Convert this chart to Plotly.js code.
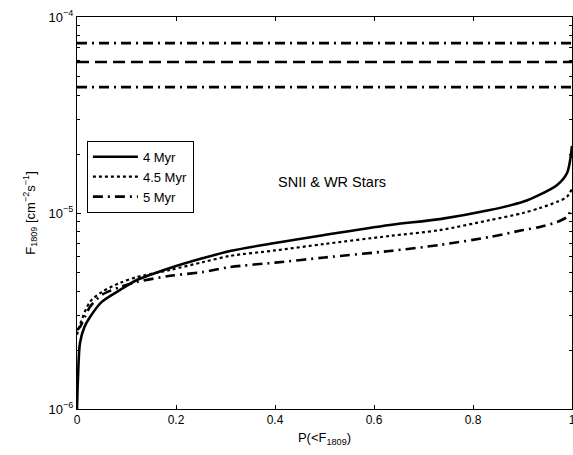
<!DOCTYPE html>
<html>
<head>
<meta charset="utf-8">
<script src="https://cdn.plot.ly/plotly-3.0.1.min.js"></script>
<style>
html,body{margin:0;padding:0;background:#fff;}
#chart{width:573px;height:455px;}
</style>
</head>
<body>
<div id="chart"></div>
<script>
// Curves: cumulative probability P(<F1809) vs flux F1809
var p4  = [0, 0.002, 0.006, 0.015, 0.026, 0.05, 0.087, 0.121, 0.188, 0.255, 0.309, 0.4, 0.5, 0.632, 0.733, 0.834, 0.901, 0.935, 0.970, 0.99, 1];
var f4  = [1.0e-6, 1.45e-6, 2.17e-6, 2.62e-6, 2.94e-6, 3.52e-6, 4.05e-6, 4.55e-6, 5.24e-6, 5.89e-6, 6.40e-6, 7.03e-6, 7.73e-6, 8.69e-6, 9.31e-6, 1.035e-5, 1.14e-5, 1.24e-5, 1.39e-5, 1.60e-5, 2.2e-5];
var p45 = [0, 0.006, 0.026, 0.05, 0.087, 0.121, 0.188, 0.255, 0.309, 0.4, 0.5, 0.632, 0.733, 0.834, 0.901, 0.935, 0.970, 0.99, 1];
var f45 = [2.39e-6, 2.69e-6, 3.52e-6, 3.95e-6, 4.40e-6, 4.71e-6, 5.12e-6, 5.62e-6, 6.04e-6, 6.44e-6, 6.95e-6, 7.64e-6, 8.18e-6, 9.2e-6, 1.0e-5, 1.06e-5, 1.14e-5, 1.21e-5, 1.33e-5];
var p5  = [0, 0.006, 0.026, 0.05, 0.087, 0.121, 0.188, 0.255, 0.309, 0.4, 0.5, 0.632, 0.733, 0.834, 0.901, 0.935, 0.970, 0.99, 1];
var f5  = [2.53e-6, 2.62e-6, 3.31e-6, 3.82e-6, 4.19e-6, 4.45e-6, 4.78e-6, 5.0e-6, 5.30e-6, 5.58e-6, 5.93e-6, 6.40e-6, 6.87e-6, 7.55e-6, 8.18e-6, 8.49e-6, 9.0e-6, 9.55e-6, 1.06e-5];

var seriesNames = ["4 Myr", "4.5 Myr", "5 Myr"];

// Horizontal reference flux levels
var levelX = [0, 1];
var levelHigh = 7.36e-5;
var levelMid = 5.89e-5;
var levelLow = 4.39e-5;

var xTickVals = [0, 0.2, 0.4, 0.6, 0.8, 1];
var xTickText = ["0", "0.2", "0.4", "0.6", "0.8", "1"];
var yTickVals = [1e-6, 1e-5, 1e-4];
var yTickText = ["10<sup>−6</sup>", "10<sup>−5</sup>", "10<sup>−4</sup>"];
var yMinorVals = [];
[1e-6, 1e-5].forEach(function(d){ for (var k = 2; k <= 9; k++) yMinorVals.push(k*d); });

var annotationText = "SNII & WR Stars";

var dashDot = "10px,5px,2px,5px";

var traces = [
  {x: p4, y: f4, name: seriesNames[0], mode: "lines", line: {color: "#000", width: 2.6, dash: "solid", shape: "spline", smoothing: 0.8}},
  {x: p45, y: f45, name: seriesNames[1], mode: "lines", line: {color: "#000", width: 2.2, dash: "dot", shape: "spline", smoothing: 0.8}},
  {x: p5, y: f5, name: seriesNames[2], mode: "lines", line: {color: "#000", width: 2.6, dash: dashDot, shape: "spline", smoothing: 0.8}},
  {x: levelX, y: [levelHigh, levelHigh], mode: "lines", showlegend: false, hoverinfo: "skip", line: {color: "#000", width: 2.6, dash: dashDot}},
  {x: levelX, y: [levelMid, levelMid], mode: "lines", showlegend: false, hoverinfo: "skip", line: {color: "#000", width: 2.6, dash: "12px,6px"}},
  {x: levelX, y: [levelLow, levelLow], mode: "lines", showlegend: false, hoverinfo: "skip", line: {color: "#000", width: 2.6, dash: dashDot}}
];

var layout = {
  width: 573, height: 455,
  margin: {l: 77, r: 1, t: 17, b: 46},
  paper_bgcolor: "#fff", plot_bgcolor: "#fff",
  font: {family: "Liberation Sans, Arial, sans-serif", size: 12, color: "#000"},
  showlegend: true,
  legend: {x: 0.02, y: 0.684, xanchor: "left", yanchor: "top", bgcolor: "#fff",
           bordercolor: "#000", borderwidth: 1, font: {size: 13, color: "#000"},
           tracegroupgap: 0, itemwidth: 45},
  xaxis: {
    range: [0, 1], tickmode: "array", tickvals: xTickVals, ticktext: xTickText,
    ticks: "inside", ticklen: 4, tickcolor: "#000", showline: true, linecolor: "#000", linewidth: 1,
    mirror: "ticks", showgrid: false, zeroline: false, tickfont: {size: 12, color: "#000"},
    ticklabeloverflow: "allow",
    title: {text: "P(<F<sub>1809</sub>)", font: {size: 13, color: "#000"}, standoff: 6}
  },
  yaxis: {
    type: "log", range: [-6, -4], tickmode: "array", tickvals: yTickVals, ticktext: yTickText,
    ticks: "inside", ticklen: 4, tickcolor: "#000", showline: true, linecolor: "#000", linewidth: 1,
    mirror: "ticks", showgrid: false, zeroline: false, tickfont: {size: 13, color: "#000"},
    minor: {tickmode: "array", tickvals: yMinorVals, ticks: "inside", ticklen: 3, tickcolor: "#000", showgrid: false},
    title: {text: "F<sub>1809</sub> [cm<sup>−2</sup>s<sup>−1</sup>]", font: {size: 13, color: "#000"}, standoff: 10}
  },
  annotations: [
    {x: 0.515, y: -4.842, xref: "x", yref: "y", text: annotationText, showarrow: false,
     font: {size: 14.5, color: "#000"}}
  ]
};

Plotly.newPlot("chart", traces, layout, {displayModeBar: false, staticPlot: true});
</script>
</body>
</html>
